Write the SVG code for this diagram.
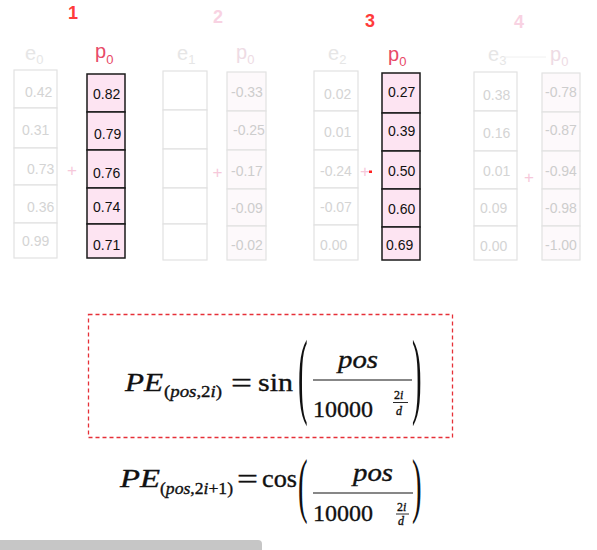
<svg xmlns="http://www.w3.org/2000/svg" width="597" height="550" viewBox="0 0 597 550">
<style>
.num{font-family:"Liberation Sans",Arial,sans-serif;font-weight:bold;font-size:18px;text-anchor:middle}
.on{fill:#ff3b3b}
.offn{fill:#f8d2e2}
.lbl{font-family:"Liberation Sans",Arial,sans-serif;font-size:20px}
.sub{font-size:13px}
.plab{fill:#e84a68}
.elab{fill:#e6e6e6}
.pfaint{fill:#eedbe4}
.val{font-family:"Liberation Sans",Arial,sans-serif;font-size:14px}
.pc{fill:#fde4f2;stroke:#1a1a1a;stroke-width:1.5}
.pt{fill:#111}
.ec{fill:#fff;stroke:#e2e2e2;stroke-width:1.2}
.et{fill:#d4d4d4}
.fc{fill:#fdf9fb;stroke:#e2e2e2;stroke-width:1.2}
.ft{fill:#cdcdcd}
.plus{font-family:"Liberation Sans",Arial,sans-serif;font-size:17px;text-anchor:middle;fill:#f6c8da}
.m{font-family:"Liberation Serif","Times New Roman",serif;fill:#111;stroke:#111;stroke-width:0.35}
.it{font-style:italic}
.par{font-family:"Liberation Serif","Times New Roman",serif;fill:#111;font-size:24px}
.fl{stroke:#111;stroke-width:1.2}
</style>
<rect width="597" height="550" fill="#fff"/>

<g id="panel1">
<text class="num on" x="73" y="19">1</text>
<text class="lbl elab" x="25" y="60">e<tspan class="sub" dy="4">0</tspan></text>
<text class="lbl plab" x="95" y="58">p<tspan class="sub" dy="6">0</tspan></text>
<g id="e0">
<rect class="ec" x="14" y="70" width="43" height="38"/>
<rect class="ec" x="14" y="108" width="43" height="40"/>
<rect class="ec" x="14" y="148" width="43" height="37"/>
<rect class="ec" x="14" y="185" width="43" height="38"/>
<rect class="ec" x="14" y="223" width="43" height="35"/>
<text class="val et" x="25" y="97">0.42</text>
<text class="val et" x="22" y="135">0.31</text>
<text class="val et" x="27" y="174">0.73</text>
<text class="val et" x="27" y="212">0.36</text>
<text class="val et" x="22" y="246">0.99</text>
</g>
<text class="plus" x="72" y="176">+</text>
<g id="p0_1">
<rect class="pc" x="87" y="74" width="38" height="38"/>
<rect class="pc" x="87" y="112" width="38" height="38"/>
<rect class="pc" x="87" y="150" width="38" height="38"/>
<rect class="pc" x="87" y="188" width="38" height="36"/>
<rect class="pc" x="87" y="224" width="38" height="34"/>
<text class="val pt" x="93" y="99">0.82</text>
<text class="val pt" x="94" y="139">0.79</text>
<text class="val pt" x="93" y="178">0.76</text>
<text class="val pt" x="93" y="212">0.74</text>
<text class="val pt" x="93" y="250">0.71</text>
</g>
</g>

<g id="panel2">
<text class="num offn" x="218" y="23">2</text>
<text class="lbl elab" x="177" y="60">e<tspan class="sub" dy="4">1</tspan></text>
<text class="lbl pfaint" x="236" y="59">p<tspan class="sub" dy="5">0</tspan></text>
<g id="e1">
<rect class="ec" x="163" y="71" width="44" height="39"/>
<rect class="ec" x="163" y="110" width="44" height="39"/>
<rect class="ec" x="163" y="149" width="44" height="39"/>
<rect class="ec" x="163" y="188" width="44" height="36"/>
<rect class="ec" x="163" y="224" width="44" height="36"/>
</g>
<text class="plus" x="217.5" y="178">+</text>
<g id="p0_2">
<rect class="fc" x="227" y="72" width="39" height="39"/>
<rect class="fc" x="227" y="111" width="39" height="39"/>
<rect class="fc" x="227" y="150" width="39" height="39"/>
<rect class="fc" x="227" y="189" width="39" height="37"/>
<rect class="fc" x="227" y="226" width="39" height="34"/>
<text class="val ft" x="231" y="97">-0.33</text>
<text class="val ft" x="233" y="135">-0.25</text>
<text class="val ft" x="231" y="176">-0.17</text>
<text class="val ft" x="231" y="213">-0.09</text>
<text class="val ft" x="231" y="250">-0.02</text>
</g>
</g>

<g id="panel3">
<text class="num on" x="370" y="27">3</text>
<text class="lbl elab" x="328" y="60">e<tspan class="sub" dy="4">2</tspan></text>
<text class="lbl plab" x="388" y="61">p<tspan class="sub" dy="5">0</tspan></text>
<g id="e2">
<rect class="ec" x="314" y="71" width="44" height="40"/>
<rect class="ec" x="314" y="111" width="44" height="39"/>
<rect class="ec" x="314" y="150" width="44" height="38"/>
<rect class="ec" x="314" y="188" width="44" height="37"/>
<rect class="ec" x="314" y="225" width="44" height="35"/>
<text class="val et" x="324" y="99">0.02</text>
<text class="val et" x="324" y="137">0.01</text>
<text class="val et" x="320" y="176">-0.24</text>
<text class="val et" x="320" y="212">-0.07</text>
<text class="val et" x="320" y="250">0.00</text>
</g>
<text class="plus" x="365" y="177">+</text>
<rect x="369" y="170.5" width="3" height="2.5" fill="#ff2020"/>
<g id="p0_3">
<rect class="pc" x="382" y="73" width="38" height="40"/>
<rect class="pc" x="382" y="113" width="38" height="38"/>
<rect class="pc" x="382" y="151" width="38" height="38"/>
<rect class="pc" x="382" y="189" width="38" height="38"/>
<rect class="pc" x="382" y="227" width="38" height="33"/>
<text class="val pt" x="388" y="97">0.27</text>
<text class="val pt" x="388" y="136">0.39</text>
<text class="val pt" x="388" y="176">0.50</text>
<text class="val pt" x="388" y="214">0.60</text>
<text class="val pt" x="386" y="250">0.69</text>
</g>
</g>

<g id="panel4">
<text class="num offn" x="519" y="28">4</text>
<text class="lbl elab" x="488" y="61">e<tspan class="sub" dy="4">3</tspan></text>
<line x1="504" y1="57" x2="546" y2="57" stroke="#f0f0f0" stroke-width="1"/>
<text class="lbl pfaint" x="550" y="61">p<tspan class="sub" dy="5">0</tspan></text>
<g id="e3">
<rect class="ec" x="474" y="72" width="43" height="39"/>
<rect class="ec" x="474" y="111" width="43" height="40"/>
<rect class="ec" x="474" y="151" width="43" height="38"/>
<rect class="ec" x="474" y="189" width="43" height="37"/>
<rect class="ec" x="474" y="226" width="43" height="34"/>
<text class="val et" x="483" y="100">0.38</text>
<text class="val et" x="483" y="138">0.16</text>
<text class="val et" x="483" y="176">0.01</text>
<text class="val et" x="480" y="213">0.09</text>
<text class="val et" x="480" y="251">0.00</text>
</g>
<text class="plus" x="529" y="183">+</text>
<g id="p0_4">
<rect class="fc" x="542" y="73" width="38" height="39"/>
<rect class="fc" x="542" y="112" width="38" height="39"/>
<rect class="fc" x="542" y="151" width="38" height="38"/>
<rect class="fc" x="542" y="189" width="38" height="37"/>
<rect class="fc" x="542" y="226" width="38" height="34"/>
<text class="val ft" x="545" y="97">-0.78</text>
<text class="val ft" x="545" y="135">-0.87</text>
<text class="val ft" x="545" y="176">-0.94</text>
<text class="val ft" x="545" y="213">-0.98</text>
<text class="val ft" x="545" y="250">-1.00</text>
</g>
</g>

<g id="formula-sin">
<rect x="88.5" y="314.5" width="364" height="123" fill="none" stroke="#e63038" stroke-width="1.3" stroke-dasharray="4 3"/>
<text class="m it" x="125" y="391" font-size="25" textLength="38" lengthAdjust="spacingAndGlyphs">PE</text>
<text class="m" x="164" y="397" font-size="16" textLength="58" lengthAdjust="spacingAndGlyphs">(<tspan class="it">pos</tspan>,2<tspan class="it">i</tspan>)</text>
<text class="m" x="231" y="392" font-size="28" textLength="21" lengthAdjust="spacingAndGlyphs">=</text>
<text class="m" x="258" y="391" font-size="25" textLength="35" lengthAdjust="spacingAndGlyphs">sin</text>
<text class="par" transform="translate(298,406) scale(1.2,4)">(</text>
<text class="m it" x="338" y="368" font-size="25" textLength="40" lengthAdjust="spacingAndGlyphs">pos</text>
<line class="fl" x1="313" y1="380" x2="412" y2="380"/>
<text class="m" x="313" y="417" font-size="24" textLength="60" lengthAdjust="spacingAndGlyphs">10000</text>
<text class="m" x="394" y="399" font-size="12">2<tspan class="it">i</tspan></text>
<line x1="393" y1="402.5" x2="408" y2="402.5" stroke="#111" stroke-width="0.9"/>
<text class="m it" x="396" y="415" font-size="12">d</text>
<text class="par" transform="translate(412,406) scale(1.2,4)">)</text>
</g>

<g id="formula-cos">
<text class="m it" x="120" y="487" font-size="25" textLength="40" lengthAdjust="spacingAndGlyphs">PE</text>
<text class="m" x="160" y="494" font-size="16" textLength="73" lengthAdjust="spacingAndGlyphs">(<tspan class="it">pos</tspan>,2<tspan class="it">i</tspan>+1)</text>
<text class="m" x="237" y="488" font-size="28" textLength="21" lengthAdjust="spacingAndGlyphs">=</text>
<text class="m" x="262" y="487" font-size="25" textLength="35" lengthAdjust="spacingAndGlyphs">cos</text>
<text class="par" transform="translate(298,509) scale(1.2,2.98)">(</text>
<text class="m it" x="353" y="481" font-size="25" textLength="40" lengthAdjust="spacingAndGlyphs">pos</text>
<line class="fl" x1="313" y1="493" x2="413" y2="493"/>
<text class="m" x="313" y="521" font-size="24" textLength="60" lengthAdjust="spacingAndGlyphs">10000</text>
<text class="m" x="397" y="511" font-size="12">2<tspan class="it">i</tspan></text>
<line x1="396" y1="514" x2="409" y2="514" stroke="#111" stroke-width="0.9"/>
<text class="m it" x="398" y="525" font-size="12">d</text>
<text class="par" transform="translate(412,509) scale(1.2,2.98)">)</text>
</g>

<path d="M0 540 H258 Q262 540 262 544 V550 H0 Z" fill="#c6c6c6"/>
</svg>
